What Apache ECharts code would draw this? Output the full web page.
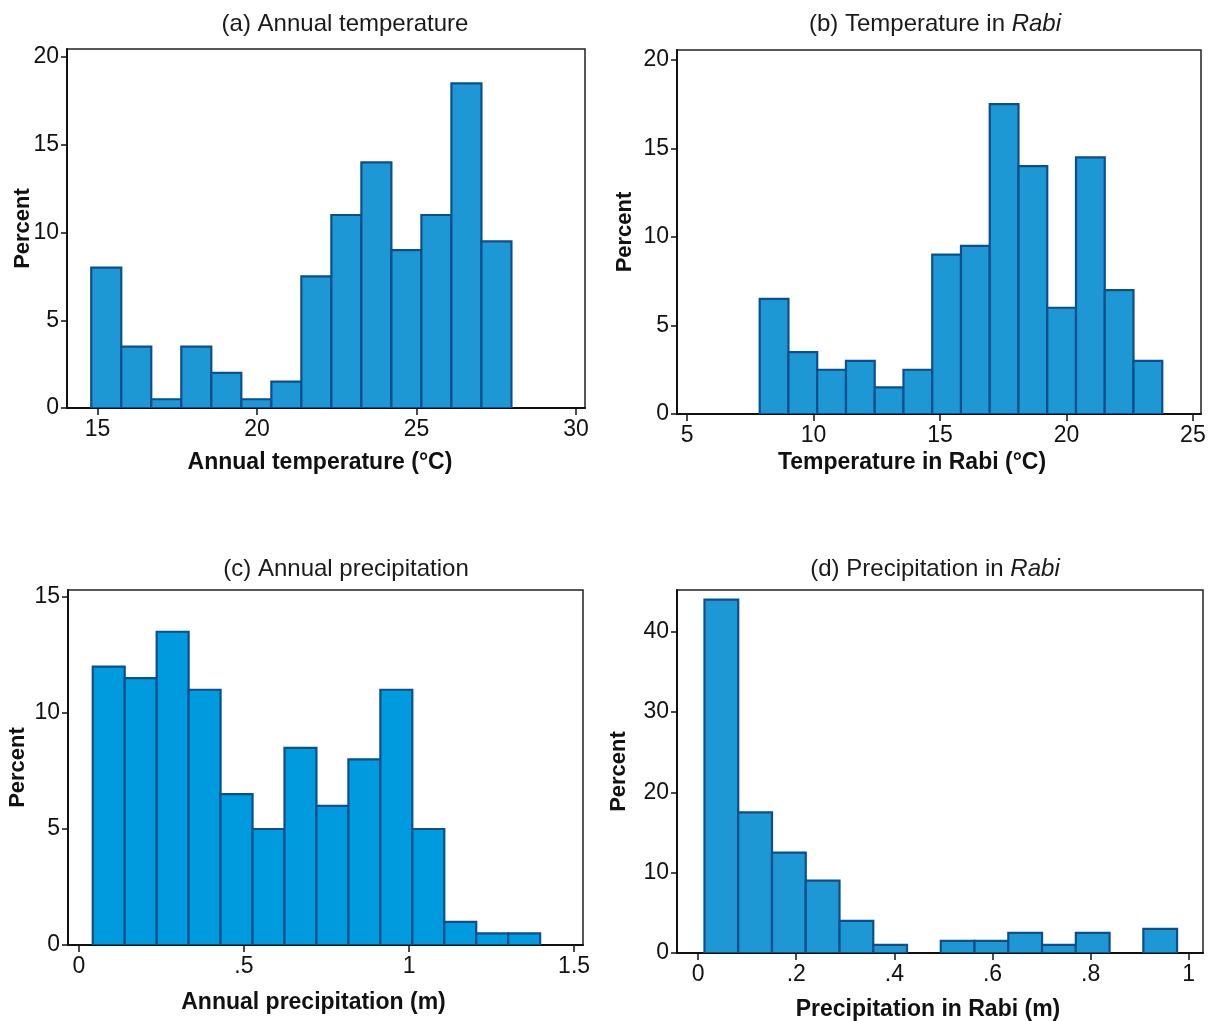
<!DOCTYPE html>
<html>
<head>
<meta charset="utf-8">
<title>Temperature and precipitation histograms</title>
<script src="https://cdn.jsdelivr.net/npm/echarts@6/dist/echarts.min.js"></script>
<style>
  html, body { margin: 0; padding: 0; background: #fff; }
  #chart { width: 1213px; height: 1021px; }
</style>
</head>
<body>
<div id="chart"></div>
<script>
// Histogram percentages per bin, with each panel's first bin edge and bin width
const annualTempStart = 14.80, annualTempWidth = 0.941;
const annualTempPct = [8, 3.5, 0.5, 3.5, 2, 0.5, 1.5, 7.5, 11, 14, 9, 11, 18.5, 9.5];

const rabiTempStart = 7.87, rabiTempWidth = 1.137;
const rabiTempPct = [6.5, 3.5, 2.5, 3, 1.5, 2.5, 9, 9.5, 17.5, 14, 6, 14.5, 7, 3];

const annualPrecStart = 0.042, annualPrecWidth = 0.0968;
const annualPrecPct = [12, 11.5, 13.5, 11, 6.5, 5, 8.5, 6, 8, 11, 5, 1, 0.5, 0.5];

const rabiPrecStart = 0.013, rabiPrecWidth = 0.0688;
const rabiPrecPct = [44, 17.5, 12.5, 9, 4, 1, 0, 1.5, 1.5, 2.5, 1, 2.5, 0, 3];

// Axis tick values
const annualTempXTicks = [15, 20, 25, 30];
const rabiTempXTicks = [5, 10, 15, 20, 25];
const annualPrecXTicks = [0, 0.5, 1, 1.5];
const rabiPrecXTicks = [0, 0.2, 0.4, 0.6, 0.8, 1];
const tempYTicks = [0, 5, 10, 15, 20];
const annualPrecYTicks = [0, 5, 10, 15];
const rabiPrecYTicks = [0, 10, 20, 30, 40];

const panelTitles = ['(a) Annual temperature', '(b) Temperature in {i|Rabi}',
                     '(c) Annual precipitation', '(d) Precipitation in {i|Rabi}'];
const xTitles = ['Annual temperature (°C)', 'Temperature in Rabi (°C)',
                 'Annual precipitation (m)', 'Precipitation in Rabi (m)'];
const yTitle = 'Percent';

function bins(start, width, pct) {
  return pct.map((p, i) => [start + i * width, start + (i + 1) * width, p]);
}

const panels = [
  { data: bins(annualTempStart, annualTempWidth, annualTempPct), xt: annualTempXTicks, yt: tempYTicks,
    grid: { left: 67, top: 49, width: 518, height: 359 }, xr: [14.04, 30.28], yr: [0, 20.46],
    fill: '#1e97d5', nameGap: 43, namePad: [0, 12, 0, 0], yGap: 33, title: [340, 7] },
  { data: bins(rabiTempStart, rabiTempWidth, rabiTempPct), xt: rabiTempXTicks, yt: tempYTicks,
    grid: { left: 677, top: 50, width: 524, height: 364 }, xr: [4.60, 25.32], yr: [0, 20.56],
    fill: '#1e97d5', nameGap: 37, namePad: [0, 54, 0, 0], yGap: 41, title: [930, 7] },
  { data: bins(annualPrecStart, annualPrecWidth, annualPrecPct), xt: annualPrecXTicks, yt: annualPrecYTicks,
    grid: { left: 68, top: 590, width: 515, height: 355 }, xr: [-0.033, 1.527], yr: [0, 15.3],
    fill: '#009bdf', nameGap: 46, namePad: [0, 24, 0, 0], yGap: 39, title: [341, 552] },
  { data: bins(rabiPrecStart, rabiPrecWidth, rabiPrecPct), xt: rabiPrecXTicks, yt: rabiPrecYTicks,
    grid: { left: 677, top: 590, width: 526, height: 363 }, xr: [-0.043, 1.029], yr: [0, 45.2],
    fill: '#1e97d5', nameGap: 45, namePad: [0, 24, 0, 0], yGap: 47, title: [930, 552] }
];

const fmt = v => String(+v.toFixed(3)).replace(/^0\./, '.');
const mainFont = "'Liberation Sans', Arial, sans-serif";

const option = {
  backgroundColor: '#ffffff',
  animation: false,
  title: panels.map((p, i) => ({
    text: panelTitles[i],
    left: p.title[0], top: p.title[1], textAlign: 'center',
    textStyle: { fontFamily: mainFont, fontSize: 24, fontWeight: 'normal', color: '#1a1a1a',
      rich: { i: { fontFamily: mainFont, fontSize: 24, fontStyle: 'italic', color: '#1a1a1a' } } }
  })),
  grid: panels.map(p => Object.assign({ show: true, borderColor: '#222', borderWidth: 1.5,
    backgroundColor: '#fff', containLabel: false, outerBoundsMode: 'none' }, p.grid)),
  xAxis: panels.map((p, i) => ({
    type: 'value', gridIndex: i, min: p.xr[0], max: p.xr[1],
    name: xTitles[i], nameLocation: 'middle', nameGap: p.nameGap, nameMoveOverlap: false,
    nameTextStyle: { fontFamily: mainFont, fontSize: 23, fontWeight: 'bold', color: '#111', padding: p.namePad },
    axisLine: { show: true, onZero: false, lineStyle: { color: '#111', width: 2 } },
    axisTick: { show: true, length: 7, customValues: p.xt, lineStyle: { color: '#111', width: 1.5 } },
    axisLabel: { customValues: p.xt, formatter: fmt, margin: 10, fontFamily: mainFont, fontSize: 23, color: '#111' },
    splitLine: { show: false }
  })),
  yAxis: panels.map((p, i) => ({
    type: 'value', gridIndex: i, min: p.yr[0], max: p.yr[1],
    name: yTitle, nameLocation: 'middle', nameGap: p.yGap, nameRotate: 90, nameMoveOverlap: false,
    nameTextStyle: { fontFamily: mainFont, fontSize: 22, fontWeight: 'bold', color: '#111' },
    axisLine: { show: true, onZero: false, lineStyle: { color: '#111', width: 2 } },
    axisTick: { show: true, length: 6, customValues: p.yt, lineStyle: { color: '#111', width: 1.5 } },
    axisLabel: { customValues: p.yt, formatter: fmt, margin: 8, fontFamily: mainFont, fontSize: 23, color: '#111' },
    splitLine: { show: false }
  })),
  series: panels.map((p, i) => ({
    type: 'custom',
    xAxisIndex: i, yAxisIndex: i,
    encode: { x: [0, 1], y: 2 },
    data: p.data,
    clip: true,
    renderItem: function (params, api) {
      const pct = api.value(2);
      if (pct <= 0) return null;
      const tl = api.coord([api.value(0), pct]);
      const br = api.coord([api.value(1), 0]);
      return {
        type: 'rect',
        shape: { x: tl[0], y: tl[1], width: br[0] - tl[0], height: br[1] - tl[1] },
        style: { fill: p.fill, stroke: '#0d4f8c', lineWidth: 2.2 }
      };
    }
  }))
};

echarts.init(document.getElementById('chart'), null, { renderer: 'canvas' }).setOption(option);
</script>
</body>
</html>
